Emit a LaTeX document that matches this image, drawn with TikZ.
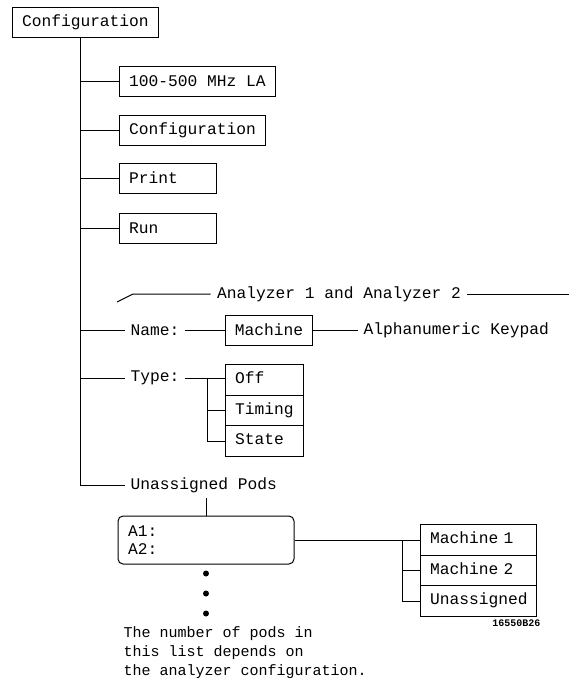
\documentclass[tikz,border=0pt]{standalone}
\usepackage{fontspec}
\setmainfont{Liberation Mono}
\usetikzlibrary{shapes,positioning,calc}

\begin{document}
\begin{tikzpicture}[x=1pt,y=-1pt,line width=1pt,font=\fontsize{16.25}{19}\selectfont,
    menu/.style={draw,rectangle,minimum height=30pt,inner xsep=9.5pt,anchor=west},
    lbl/.style={inner sep=5pt,anchor=west},
    choice/.style={draw,rectangle split,rectangle split parts=3,inner xsep=9.5pt,
      inner ysep=5.25pt,align=left,anchor=north west}]
    \useasboundingbox (0,0) rectangle (569,683);
    % menu column
    \node[menu] (cfg) at (12,22) {Configuration};
    \node[menu] (la) at (119,81) {100-500 MHz LA};
    \node[menu] (conf) at (119,130) {Configuration};
    \node[menu,text width=78pt,align=left] (print) at (119,178) {Print};
    \node[menu,text width=78pt,align=left] (run) at (119,228) {Run};
    % analyzer fields
    \node[lbl,anchor=center,inner xsep=6pt] (ana) at (339,294) {Analyzer 1 and Analyzer 2};
    \coordinate (anastart) at (117,302);
    \coordinate (anaend) at (569,294);
    \node[lbl] (name) at (125,330) {Name:};
    \node[menu,anchor=center] (mach) at (269,330) {Machine};
    \node[lbl] (keypad) at (358,330) {Alphanumeric Keypad};
    \node[lbl] (type) at (125,378) {Type:};
    \node[choice,text width=59pt] (types) at (225,364)
      {\strut Off\nodepart{two}\strut Timing\nodepart{three}\strut State};
    \node[lbl] (upods) at (125,485) {Unassigned Pods};
    \node[draw,rounded corners=5pt,minimum height=48pt,text width=156pt,inner xsep=10pt,
      align=left,font=\fontsize{16.25}{18}\selectfont] (pods) at (206,540) {A1:\\A2:};
    \node[choice,text width=97pt] (machs) at (420,524)
      {\strut Machine 1\nodepart{two}\strut Machine 2\nodepart{three}\strut Unassigned};
    \node[anchor=east,inner sep=0pt,font=\fontsize{10}{12}\selectfont\bfseries] (fig) at (541,623) {16550B26};
    \node[lbl,align=left,font=\fontsize{15}{19}\selectfont] (note) at (118,653)
      {The number of pods in\\this list depends on\\the analyzer configuration.};
    % trunk and branches
    \coordinate (trunk) at (80,485);
    \draw (cfg.south -| trunk) -- (trunk) -- (upods.west);
    \foreach \n in {la,conf,print,run,name,type}
      \draw (trunk |- \n.west) -- (\n.west);
    \draw (anastart) -- ++(16,-8) -- (ana.west);
    \draw (ana.east) -- (anaend);
    \draw (name.east) -- (mach.west);
    \draw (mach.east) -- (keypad.west);
    % type choices
    \coordinate (tfork) at (207,378);
    \draw (type.east) -- (type.east -| types.west);
    \draw (tfork) |- ($(types.one split west)!.5!(types.two split west)$);
    \draw (tfork) |- ($(types.two split west)!.5!(types.south west)$);
    % pods and machines
    \coordinate (mfork) at ($(pods.east -| machs.west)+(-18,0)$);
    \draw (pods.north) -- (pods.north |- upods.south);
    \draw (pods.east) -- (pods.east -| machs.west);
    \draw (mfork) |- ($(machs.one split west)!.5!(machs.two split west)$);
    \draw (mfork) |- ($(machs.two split west)!.5!(machs.south west)$);
    \foreach \d in {9,29,49}
      \fill ($(pods.south)+(0,\d)$) circle (3pt);
  \end{tikzpicture}
\end{document}
